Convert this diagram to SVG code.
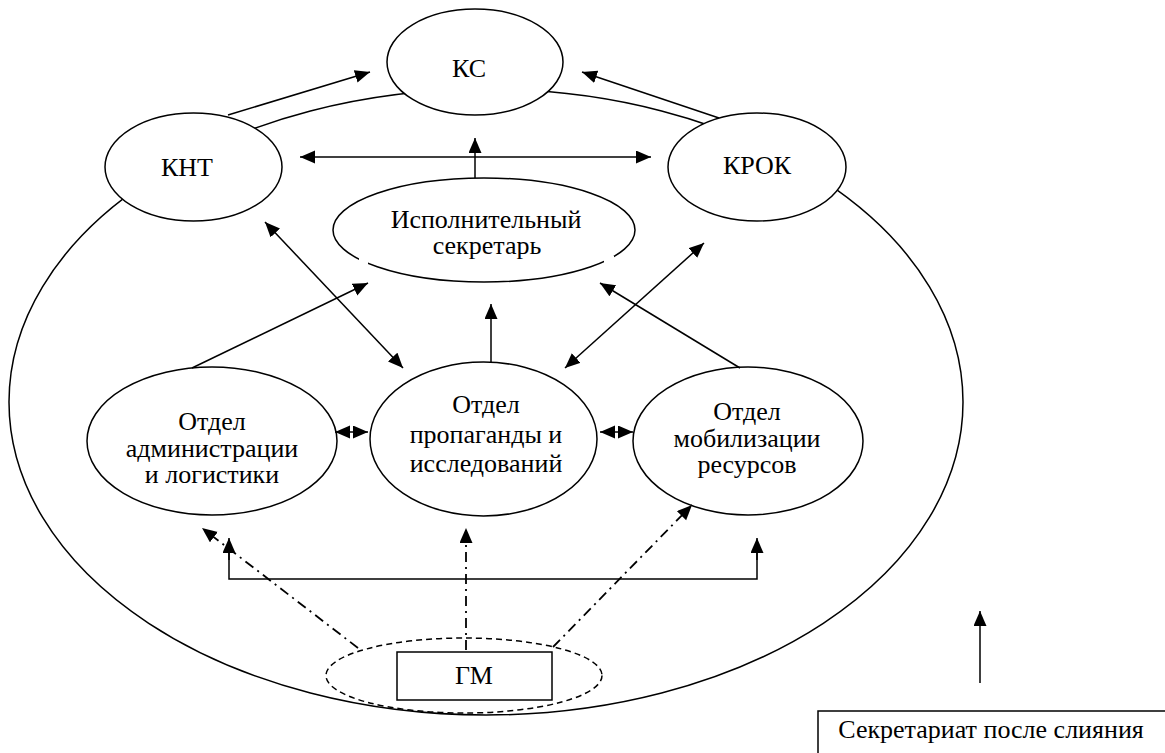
<svg xmlns="http://www.w3.org/2000/svg" width="1165" height="753" viewBox="0 0 1165 753">
<style>
.n{fill:#fff;stroke:#000;stroke-width:1.5}
.t{fill:#000;text-anchor:middle}
.c{fill:none;stroke:#000;stroke-width:1.5}
.dd{fill:none;stroke:#000;stroke-width:1.8;stroke-dasharray:10,5,2,5}
</style>
<defs>
<marker id="a" markerUnits="userSpaceOnUse" markerWidth="16" markerHeight="14" refX="15" refY="6.5" orient="auto-start-reverse" viewBox="0 0 16 14">
<path d="M0,0 L15,6.5 L0,13 z" fill="#000"/>
</marker>
</defs>
<rect width="1165" height="753" fill="#fff"/>
<g id="outer">
<ellipse cx="486" cy="402" rx="477" ry="313" class="c"/>
</g>
<g id="connectors">
<line x1="228" y1="115" x2="370" y2="72" class="c" marker-end="url(#a)"/>
<line x1="719" y1="118" x2="582" y2="72" class="c" marker-end="url(#a)"/>
<line x1="300" y1="157" x2="651" y2="157" class="c" marker-start="url(#a)" marker-end="url(#a)"/>
<line x1="475" y1="178" x2="475" y2="138" class="c" marker-end="url(#a)"/>
<line x1="265" y1="222" x2="403" y2="368" class="c" marker-start="url(#a)" marker-end="url(#a)"/>
<line x1="704" y1="243" x2="565" y2="368" class="c" marker-start="url(#a)" marker-end="url(#a)"/>
<line x1="192" y1="368" x2="368" y2="283" class="c" marker-end="url(#a)"/>
<line x1="740" y1="368" x2="600" y2="283" class="c" marker-end="url(#a)"/>
<line x1="491" y1="363" x2="491" y2="304" class="c" marker-end="url(#a)"/>
<line x1="335" y1="432" x2="368" y2="432" class="c" marker-start="url(#a)" marker-end="url(#a)"/>
<line x1="600" y1="432" x2="633" y2="432" class="c" marker-start="url(#a)" marker-end="url(#a)"/>
<polyline points="229,540 229,579 757,579 757,540" class="c"/>
<line x1="229" y1="560" x2="229" y2="538" class="c" marker-end="url(#a)"/>
<line x1="757" y1="560" x2="757" y2="538" class="c" marker-end="url(#a)"/>
<line x1="358" y1="648" x2="202" y2="528" class="dd" marker-end="url(#a)"/>
<line x1="466" y1="650" x2="466" y2="528" class="dd" marker-end="url(#a)"/>
<line x1="553" y1="647" x2="692" y2="505" class="dd" marker-end="url(#a)"/>
<line x1="980" y1="683" x2="980" y2="611" class="c" marker-end="url(#a)"/>
</g>
<g font-family="'Liberation Serif', 'Times New Roman', serif" font-size="26">
<g id="kc">
<ellipse cx="475" cy="62" rx="88" ry="53" class="n"/>
<text x="469" y="77" class="t">КС</text>
</g>
<g id="knt">
<ellipse cx="193.5" cy="167" rx="88.5" ry="54" class="n"/>
<text x="187" y="176" class="t">КНТ</text>
</g>
<g id="krok">
<ellipse cx="757" cy="167" rx="89" ry="54" class="n"/>
<text x="757" y="174" class="t">КРОК</text>
</g>
<g id="exec">
<ellipse cx="484" cy="230" rx="151" ry="52" class="c"/>
<rect x="359" y="258" width="9" height="8" fill="#fff"/>
<rect x="604" y="256" width="10" height="8" fill="#fff"/>
<text x="486" y="228" class="t">Исполнительный</text>
<text x="487" y="254" class="t">секретарь</text>
</g>
<g id="admin">
<ellipse cx="212" cy="441" rx="125" ry="74" class="c"/>
<text x="212" y="430" class="t">Отдел</text>
<text x="212" y="457" class="t">администрации</text>
<text x="212" y="483" class="t">и логистики</text>
</g>
<g id="prop">
<ellipse cx="483.5" cy="439" rx="113.5" ry="77" class="c"/>
<text x="486" y="413" class="t">Отдел</text>
<text x="486" y="443" class="t">пропаганды и</text>
<text x="486" y="472" class="t">исследований</text>
</g>
<g id="mob">
<ellipse cx="748" cy="441" rx="115" ry="74" class="c"/>
<text x="747" y="420" class="t">Отдел</text>
<text x="747" y="447" class="t">мобилизации</text>
<text x="747" y="473" class="t">ресурсов</text>
</g>
<g id="gm">
<ellipse cx="464" cy="675.5" rx="138" ry="37.5" fill="none" stroke="#000" stroke-width="1.5" stroke-dasharray="6,4"/>
<rect x="397" y="652" width="155" height="48" class="n"/>
<text x="474" y="684" class="t">ГМ</text>
</g>
<g id="legend">
<rect x="818" y="711" width="400" height="100" class="n"/>
<text x="991" y="738" class="t">Секретариат после слияния</text>
</g>
</g>
</svg>
